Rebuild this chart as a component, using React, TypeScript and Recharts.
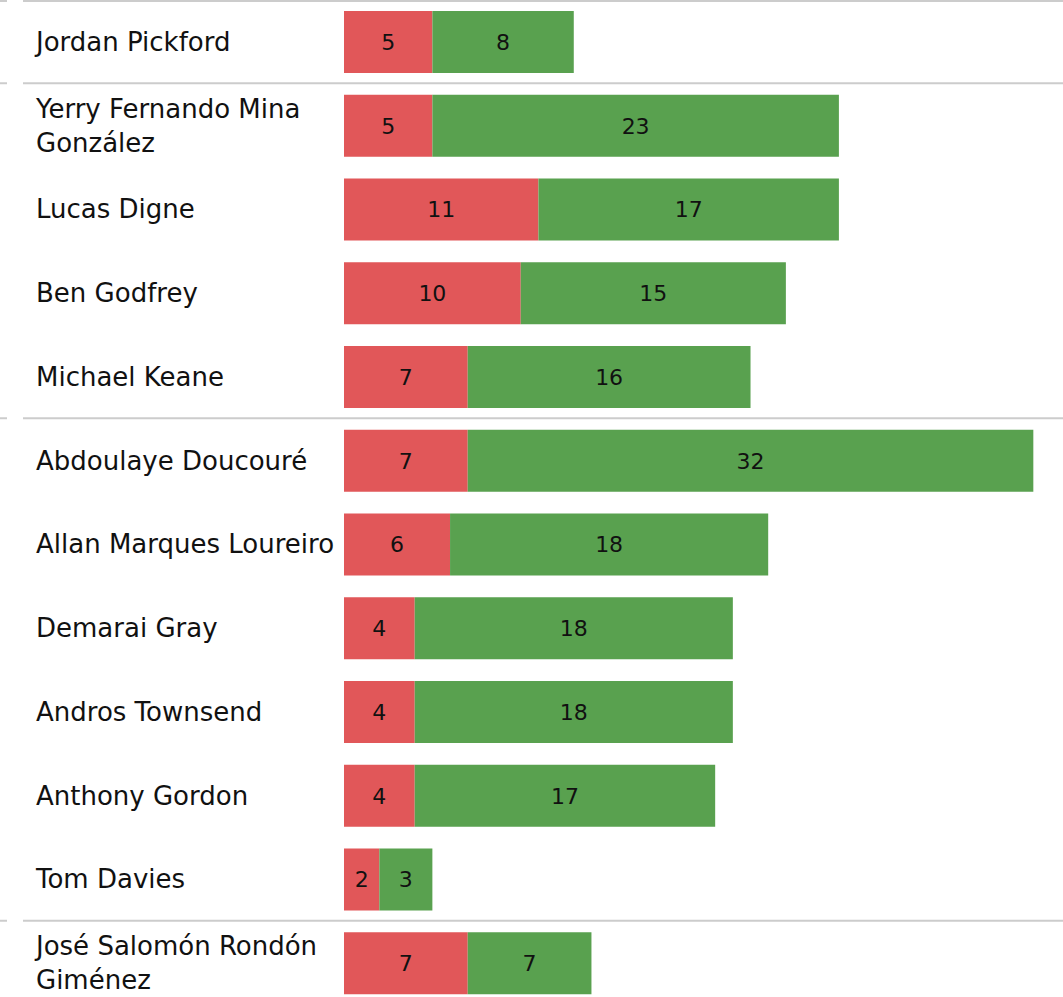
import { BarChart, Bar, XAxis, YAxis, LabelList } from "recharts";

const players = [
  "Jordan Pickford",
  "Yerry Fernando Mina González",
  "Lucas Digne",
  "Ben Godfrey",
  "Michael Keane",
  "Abdoulaye Doucouré",
  "Allan Marques Loureiro",
  "Demarai Gray",
  "Andros Townsend",
  "Anthony Gordon",
  "Tom Davies",
  "José Salomón Rondón Giménez",
];

// first player of each position group gets a separator line above it
const groupStarts = [
  "Jordan Pickford",
  "Yerry Fernando Mina González",
  "Abdoulaye Doucouré",
  "José Salomón Rondón Giménez",
];

const redValues = [5, 5, 11, 10, 7, 7, 6, 4, 4, 4, 2, 7];
const greenValues = [8, 23, 17, 15, 16, 32, 18, 18, 18, 17, 3, 7];

const data = players.map((name, i) => ({
  name,
  red: redValues[i],
  green: greenValues[i],
}));

const WIDTH = 1063;
const HEIGHT = 1005;
const FONT = "DejaVu Sans";
const ROW = HEIGHT / players.length;

let canvas: HTMLCanvasElement | null = null;
function measure(text: string, size: number) {
  if (!canvas) canvas = document.createElement("canvas");
  const ctx = canvas.getContext("2d");
  if (!ctx) return text.length * size * 0.6;
  ctx.font = `${size}px "${FONT}"`;
  return ctx.measureText(text).width;
}

function wrap(text: string, size: number, maxWidth: number) {
  const words = text.split(" ");
  const lines: string[] = [];
  let cur = "";
  for (const w of words) {
    const next = cur ? cur + " " + w : w;
    if (cur && measure(next, size) > maxWidth) {
      lines.push(cur);
      cur = w;
    } else {
      cur = next;
    }
  }
  if (cur) lines.push(cur);
  return lines;
}

function NameTick(props: any) {
  const { y, payload } = props;
  const name: string = payload.value;
  const lines = wrap(name, 26, 306);
  const lh = 34;
  const top = y - ((lines.length - 1) * lh) / 2;
  const sepY = Math.max(1, y - ROW / 2 - 0.5);
  return (
    <g>
      {groupStarts.includes(name) && (
        <g stroke="#cccccc" strokeWidth={2}>
          <line x1={0} x2={7} y1={sepY} y2={sepY} />
          <line x1={23} x2={WIDTH} y1={sepY} y2={sepY} />
        </g>
      )}
      <text
        x={36}
        y={top}
        fill="#111"
        fontSize={26}
        fontFamily={FONT}
        dominantBaseline="central"
      >
        {lines.map((l, i) => (
          <tspan key={i} x={36} y={top + i * lh}>
            {l}
          </tspan>
        ))}
      </text>
    </g>
  );
}

export default function App() {
  return (
    <div style={{ position: "absolute", left: 0, top: 0 }}>
      <BarChart
        width={WIDTH}
        height={HEIGHT}
        data={data}
        layout="vertical"
        margin={{ top: 0, right: 12, bottom: 0, left: 0 }}
        barSize={62}
      >
        <XAxis type="number" domain={[0, 40]} hide />
        <YAxis
          type="category"
          dataKey="name"
          width={344}
          axisLine={false}
          tickLine={false}
          tick={<NameTick />}
          interval={0}
        />
        <Bar dataKey="red" stackId="s" fill="#e15759" isAnimationActive={false}>
          <LabelList
            dataKey="red"
            position="center"
            fill="#111"
            fontSize={22}
            fontFamily={FONT}
          />
        </Bar>
        <Bar dataKey="green" stackId="s" fill="#59a14f" isAnimationActive={false}>
          <LabelList
            dataKey="green"
            position="center"
            fill="#111"
            fontSize={22}
            fontFamily={FONT}
          />
        </Bar>
      </BarChart>
    </div>
  );
}
